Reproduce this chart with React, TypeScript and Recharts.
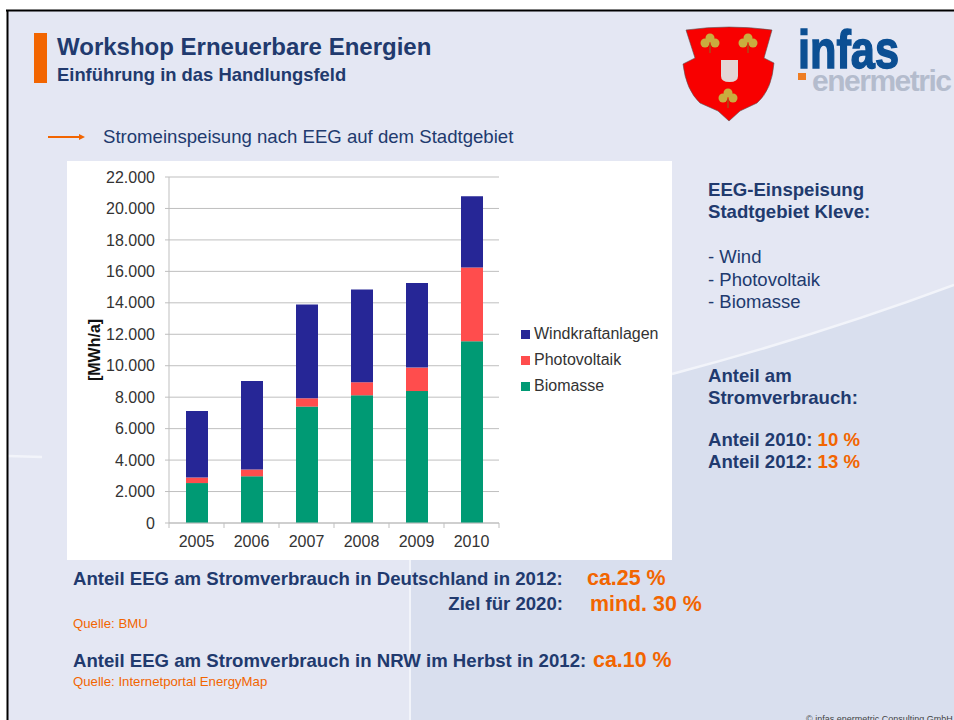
import { Bar, BarChart, CartesianGrid, Legend, XAxis, YAxis } from "recharts"

const years = ["2005", "2006", "2007", "2008", "2009", "2010"]
const biomasse = [2540, 2970, 7400, 8120, 8390, 11550]
const photovoltaik = [350, 430, 530, 830, 1490, 4690]
const windkraft = [4230, 5630, 5970, 5890, 5380, 4530]
const yTicks = [0, 2000, 4000, 6000, 8000, 10000, 12000, 14000, 16000, 18000, 20000, 22000]
const legendOrder = ["Windkraftanlagen", "Photovoltaik", "Biomasse"]

const data = years.map((year, i) => ({
  year,
  Biomasse: biomasse[i],
  Photovoltaik: photovoltaik[i],
  Windkraftanlagen: windkraft[i],
}))

const NAVY = "#213a6e"
const ORANGE = "#f26500"
const GREY = "#bfbfbf"
const FONT = "'Liberation Sans', Arial, sans-serif"

const formatTick = (v: number) => (v === 0 ? "0" : `${v / 1000}.000`)

function YearTick({ x, y, payload, index }: any) {
  const half = 27.5
  return (
    <g>
      <line x1={x - half} x2={x - half} y1={y - 8} y2={y - 3} stroke={GREY} />
      {index === years.length - 1 && <line x1={x + half} x2={x + half} y1={y - 8} y2={y - 3} stroke={GREY} />}
      <text x={x} y={y + 16} textAnchor="middle" fontSize={16} fill="#333">
        {payload.value}
      </text>
    </g>
  )
}

function Label({ x, y, size, bold, color, children, width, right }: any) {
  return (
    <div
      style={{
        position: "absolute",
        left: right ? undefined : x,
        right: right,
        top: y - size * 0.6,
        fontSize: size,
        lineHeight: `${size * 1.2}px`,
        fontWeight: bold ? "bold" : "normal",
        color: color || NAVY,
        whiteSpace: "nowrap",
        width,
      }}
    >
      {children}
    </div>
  )
}

function Backdrop() {
  return (
    <svg width={954} height={720} style={{ position: "absolute", left: 0, top: 0 }}>
      <rect x={0} y={0} width={954} height={720} fill="#fff" />
      <rect x={8} y={11} width={946} height={709} fill="#e4e7f3" />
      <path d="M410 720 V374 H672 Q820 335 954 285 V720 Z" fill="#d9dfee" />
      <path d="M672 374 Q820 335 954 285" fill="none" stroke="#f2f4fa" strokeWidth={2.5} />
      <path d="M8 456 L42 457" stroke="#f2f4fa" strokeWidth={2.5} />
      <line x1={410} x2={410} y1={560} y2={720} stroke="#f2f4fa" strokeWidth={2} />
      <rect x={6} y={9.5} width={948} height={2} fill="#000" />
      <rect x={6.5} y={10} width={2} height={710} fill="#000" />
      <rect x={34} y={33} width={13} height={50} fill={ORANGE} />
      <path d="M48 137 H80" stroke={ORANGE} strokeWidth={2} />
      <path d="M79 134 L85 137 L79 140 Z" fill={ORANGE} />
      {/* Wappen */}
      <path
        d="M686 30 Q729 24 772 30 L764 58 L774 63 Q772 90 757 103 L740 111 L729 121 L718 111 L700 103 Q686 90 683 64 L695 58 Z"
        fill="#f80000"
        stroke="#555"
        strokeWidth={0.6}
      />
      <path d="M721 60 H738 V76 Q738 82 729.5 82 Q721 82 721 76 Z" fill="#e3d6d6" />
      {[
        [710, 42],
        [748, 42],
        [728, 97],
      ].map(([cx, cy]) => (
        <g key={`${cx}-${cy}`} fill="#c9ad3f">
          <circle cx={cx - 5} cy={cy + 1} r={4.5} />
          <circle cx={cx + 5} cy={cy + 1} r={4.5} />
          <circle cx={cx} cy={cy - 4} r={4.5} />
          <rect x={cx - 0.5} y={cy + 2} width={1} height={9} fill="#8a6d20" />
        </g>
      ))}
      {/* infas enermetric */}
      <text x={798} y={68} fontFamily={FONT} fontWeight="bold" fontSize={54} fill="#0b4f93" stroke="#0b4f93" strokeWidth={1.5} textLength={101} lengthAdjust="spacingAndGlyphs">
        infas
      </text>
      <rect x={798} y={73} width={8} height={7} fill="#ee7d22" />
      <text x={812} y={91} fontFamily={FONT} fontWeight="bold" fontSize={30} fill="#b4bccd" textLength={140} lengthAdjust="spacing">
        enermetric
      </text>
    </svg>
  )
}

export default function App() {
  return (
    <div style={{ position: "absolute", left: 0, top: 0, width: 954, height: 720, overflow: "hidden", fontFamily: FONT }}>
      <Backdrop />

      <Label x={57} y={47} size={24} bold>Workshop Erneuerbare Energien</Label>
      <Label x={57} y={75} size={18.4} bold>Einführung in das Handlungsfeld</Label>
      <Label x={103} y={137} size={18.6}>Stromeinspeisung nach EEG auf dem Stadtgebiet</Label>

      <div style={{ position: "absolute", left: 67, top: 161, width: 605, height: 399, background: "#fff" }}>
        <BarChart
          width={605}
          height={399}
          data={data}
          margin={{ top: 16, right: 173, bottom: 0, left: 0 }}
          barSize={22}
          style={{ fontFamily: FONT }}
        >
          <CartesianGrid vertical={false} stroke={GREY} />
          <XAxis
            dataKey="year"
            height={37}
            axisLine={{ stroke: GREY }}
            tickLine={false}
            interval={0}
            tick={<YearTick />}
          />
          <YAxis
            width={102}
            domain={[0, 22000]}
            ticks={yTicks}
            interval={0}
            tickFormatter={formatTick}
            axisLine={{ stroke: GREY }}
            tickLine={{ stroke: GREY }}
            tickSize={4}
            tickMargin={10}
            tick={{ fontSize: 16, fill: "#333" }}
            label={{
              value: "[MWh/a]",
              angle: -90,
              position: "insideLeft",
              offset: 27,
              dy: 0,
              style: { fontSize: 16, fontWeight: "bold", fill: "#111", textAnchor: "middle" },
            }}
          />
          <Bar dataKey="Biomasse" stackId="a" fill="#009a74" isAnimationActive={false} />
          <Bar dataKey="Photovoltaik" stackId="a" fill="#ff4d4d" isAnimationActive={false} />
          <Bar dataKey="Windkraftanlagen" stackId="a" fill="#262696" isAnimationActive={false} />
          <Legend
            layout="vertical"
            align="center"
            verticalAlign="middle"
            iconType="square"
            iconSize={9}
            itemSorter={(item: any) => legendOrder.indexOf(item.value)}
            formatter={(value: string) => <span style={{ color: "#333", fontSize: 16, lineHeight: "26px" }}>{value}</span>}
            wrapperStyle={{ left: 454, top: 160, width: 150, textAlign: "left" }}
          />
        </BarChart>
      </div>

      <Label x={708} y={190} size={18.6} bold>EEG-Einspeisung</Label>
      <Label x={708} y={212} size={18.6} bold>Stadtgebiet Kleve:</Label>
      <Label x={708} y={257} size={18.5}>- Wind</Label>
      <Label x={708} y={280} size={18.5}>- Photovoltaik</Label>
      <Label x={708} y={302} size={18.5}>- Biomasse</Label>
      <Label x={708} y={376} size={18.6} bold>Anteil am</Label>
      <Label x={708} y={398} size={18.6} bold>Stromverbrauch:</Label>
      <Label x={708} y={440} size={18.6} bold>Anteil 2010: <span style={{ color: ORANGE }}>10 %</span></Label>
      <Label x={708} y={462} size={18.6} bold>Anteil 2012: <span style={{ color: ORANGE }}>13 %</span></Label>

      <Label x={73} y={579} size={18.6} bold>Anteil EEG am Stromverbrauch in Deutschland in 2012:</Label>
      <Label x={587} y={579} size={21.4} bold color={ORANGE}>ca.25 %</Label>
      <Label right={391} y={604} size={18.6} bold>Ziel für 2020:</Label>
      <Label x={590} y={605} size={21.4} bold color={ORANGE}>mind. 30 %</Label>
      <Label x={73} y={624} size={13.2} color={ORANGE}>Quelle: BMU</Label>
      <Label x={73} y={661} size={18.6} bold>Anteil EEG am Stromverbrauch in NRW im Herbst in 2012:</Label>
      <Label x={593} y={661} size={21.4} bold color={ORANGE}>ca.10 %</Label>
      <Label x={73} y={682} size={13.2} color={ORANGE}>Quelle: Internetportal EnergyMap</Label>
      <Label x={806} y={719} size={9} color="#444">© infas enermetric Consulting GmbH</Label>
    </div>
  )
}
